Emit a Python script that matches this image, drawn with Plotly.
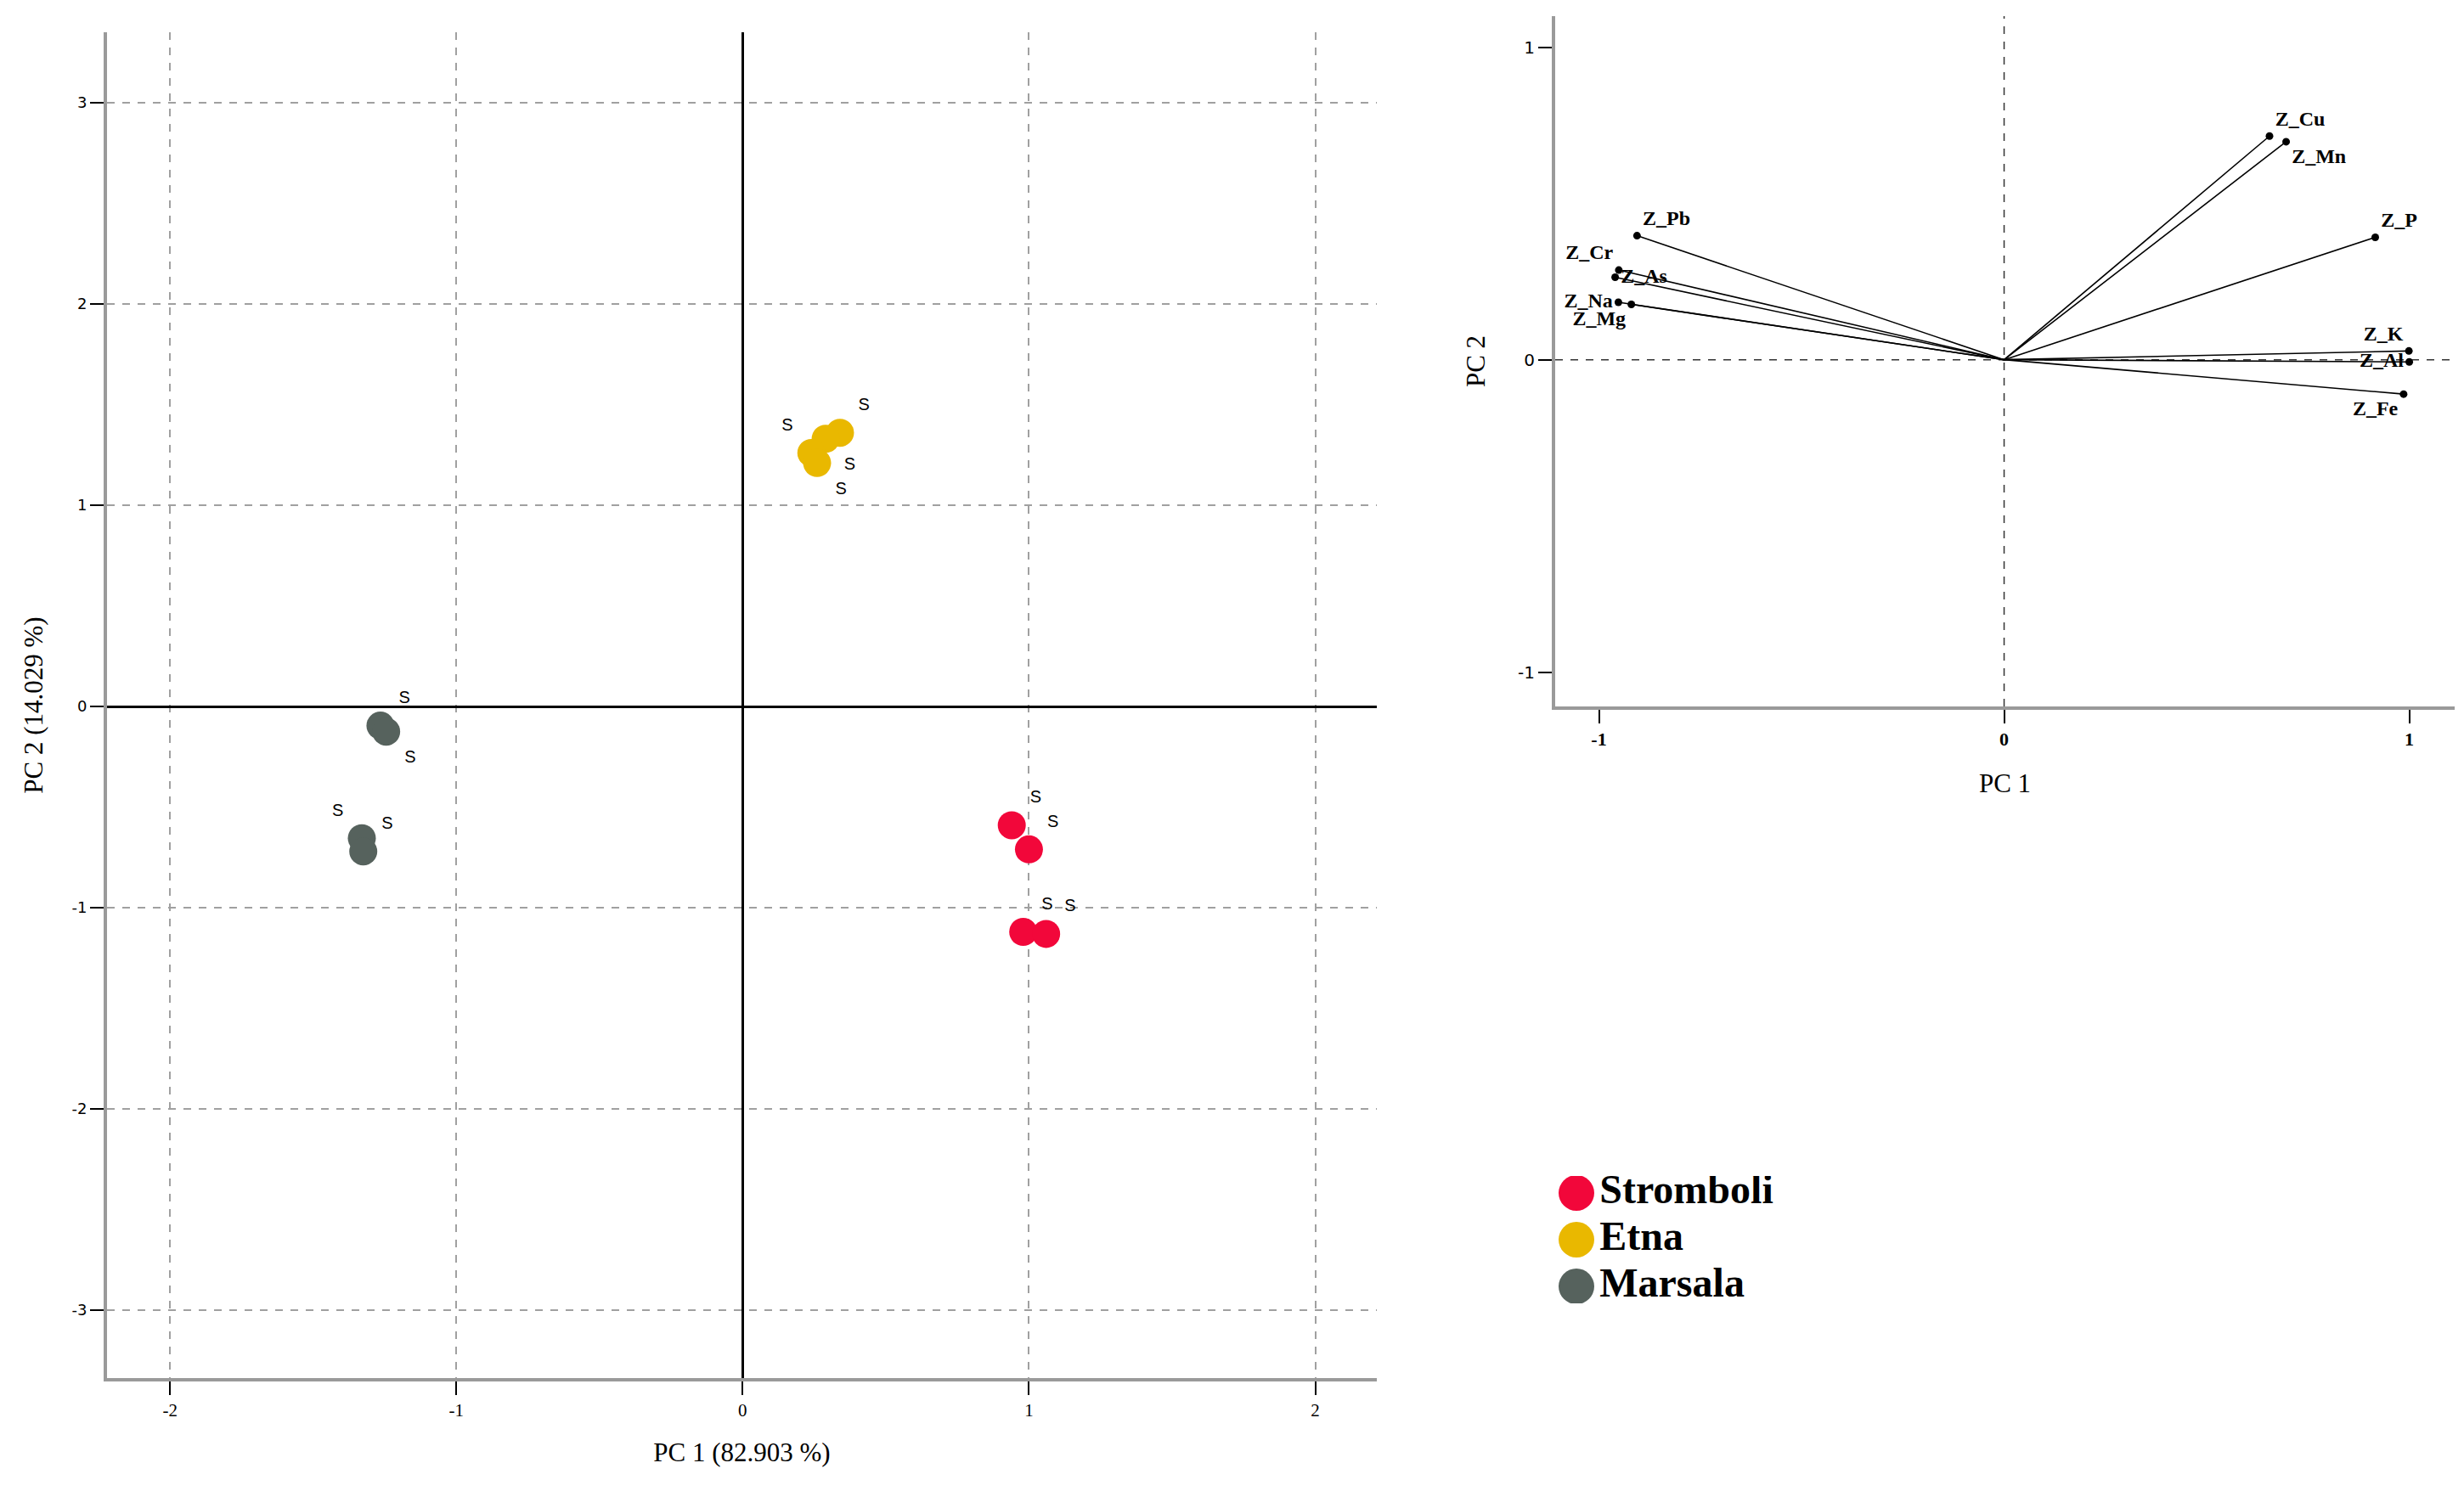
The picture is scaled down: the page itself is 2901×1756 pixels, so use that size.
import plotly.graph_objects as go

# groups and colours
groups = ["Stromboli", "Etna", "Marsala"]
group_colors = ["#F2073A", "#E9B800", "#56625D"]

# PCA scores
stromboli_pc1 = [0.94, 1.00, 0.98, 1.06]
stromboli_pc2 = [-0.59, -0.71, -1.12, -1.13]
etna_pc1 = [0.34, 0.29, 0.24, 0.26]
etna_pc2 = [1.36, 1.33, 1.26, 1.21]
marsala_pc1 = [-1.265, -1.245, -1.33, -1.325]
marsala_pc2 = [-0.095, -0.125, -0.655, -0.72]
point_label = "S"

# loadings
loading_names = ["Z_Cu", "Z_Mn", "Z_P", "Z_K", "Z_Al", "Z_Fe",
                 "Z_Pb", "Z_Cr", "Z_As", "Z_Na", "Z_Mg"]
loading_pc1 = [0.655, 0.696, 0.916, 0.999, 1.0, 0.986,
               -0.906, -0.951, -0.96, -0.952, -0.92]
loading_pc2 = [0.716, 0.698, 0.392, 0.028, -0.007, -0.110,
               0.397, 0.287, 0.264, 0.184, 0.177]

score_x_ticks = [-2, -1, 0, 1, 2]
score_y_ticks = [-3, -2, -1, 0, 1, 2, 3]
loading_ticks = [-1, 0, 1]

W, H = 2901, 1756

scores = [
    (stromboli_pc1, stromboli_pc2, ["top right"] * 4),
    (etna_pc1, etna_pc2, ["top right", "bottom right", "top left", "bottom right"]),
    (marsala_pc1, marsala_pc2, ["top right", "bottom right", "top left", "top right"]),
]
label_pos = ["top right", "bottom right", "top right", "top left", "middle left",
             "bottom left", "top right", "top left", "middle right",
             "middle left", "bottom left"]

fig = go.Figure()

for (px, py, tpos), name, col in zip(scores, groups, group_colors):
    fig.add_trace(go.Scatter(
        x=px, y=py, mode="markers+text", name=name,
        text=[point_label] * len(px), textposition=tpos,
        textfont=dict(family="Liberation Sans", size=20, color="black"),
        marker=dict(size=33, color=col),
        xaxis="x", yaxis="y", showlegend=False))

vec_x, vec_y = [], []
for lx, ly in zip(loading_pc1, loading_pc2):
    vec_x += [0, lx, None]
    vec_y += [0, ly, None]

fig.add_trace(go.Scatter(
    x=vec_x, y=vec_y, mode="lines",
    line=dict(color="black", width=1.6),
    xaxis="x2", yaxis="y2", showlegend=False))
fig.add_trace(go.Scatter(
    x=loading_pc1, y=loading_pc2, mode="markers+text",
    text=["<b>%s</b>" % n for n in loading_names], textposition=label_pos,
    textfont=dict(family="Liberation Serif", size=24, color="black"),
    marker=dict(size=9, color="black"),
    xaxis="x2", yaxis="y2", showlegend=False))

# hand made legend
fig.add_trace(go.Scatter(
    x=[0] * len(groups), y=list(range(len(groups))),
    mode="markers+text", text=["<b>%s</b>" % g for g in groups],
    textposition="middle right",
    textfont=dict(family="Liberation Serif", size=48, color="black"),
    marker=dict(size=42, color=group_colors),
    xaxis="x3", yaxis="y3", showlegend=False))

axis_common = dict(
    showline=True, linecolor="#9a9a9a", linewidth=4,
    ticks="outside", ticklen=16, tickwidth=2, tickcolor="black",
    mirror=False,
)
title_font = dict(family="Liberation Serif", size=31, color="black")

fig.update_layout(
    width=W, height=H,
    margin=dict(l=0, r=0, t=0, b=0),
    paper_bgcolor="white", plot_bgcolor="white",
    template="none",
    xaxis=dict(
        domain=[118 / W, 1613 / W], range=[-2.22, 2.215], anchor="y",
        tickvals=score_x_ticks, ticktext=[str(t) for t in score_x_ticks],
        showgrid=True, gridcolor="#a0a0a0", gridwidth=1.5, griddash="dash",
        zeroline=True, zerolinecolor="black", zerolinewidth=3,
        tickfont=dict(family="Liberation Serif", size=21, color="black"),
        title=dict(text="PC 1 (82.903 %)", standoff=28, font=title_font),
        **axis_common),
    yaxis=dict(
        domain=[1 - 1615 / H, 1 - 30 / H], range=[-3.337, 3.35], anchor="x",
        tickvals=score_y_ticks, ticktext=[str(t) for t in score_y_ticks],
        showgrid=True, gridcolor="#a0a0a0", gridwidth=1.5, griddash="dash",
        zeroline=True, zerolinecolor="black", zerolinewidth=3,
        tickfont=dict(family="DejaVu Sans", size=18, color="black"),
        title=dict(text="PC 2 (14.029 %)", standoff=26, font=title_font),
        **axis_common),
    xaxis2=dict(
        domain=[1823 / W, 2882 / W], range=[-1.108, 1.112], anchor="y2",
        tickvals=loading_ticks, ticktext=["<b>%d</b>" % t for t in loading_ticks],
        showgrid=False, zeroline=False,
        tickfont=dict(family="Liberation Serif", size=22, color="black"),
        title=dict(text="PC 1", standoff=30, font=title_font),
        **axis_common),
    yaxis2=dict(
        domain=[1 - 824 / H, 1 - 11 / H], range=[-1.11, 1.10], anchor="x2",
        tickvals=loading_ticks, ticktext=[str(t) for t in loading_ticks],
        showgrid=False, zeroline=False,
        tickfont=dict(family="DejaVu Sans", size=20, color="black"),
        title=dict(text="PC 2", standoff=30, font=title_font),
        **axis_common),
    xaxis3=dict(domain=[1823 / W, 2243 / W], range=[-25, 395],
                visible=False, anchor="y3"),
    yaxis3=dict(domain=[1 - 1527 / H, 1 - 1377 / H], range=[2.364, -0.364],
                visible=False, anchor="x3"),
    showlegend=False,
)

# dashed reference lines through the origin of the loading plot
fig.add_shape(type="line", xref="x2", yref="y2 domain", x0=0, x1=0, y0=0, y1=1,
              line=dict(color="#333333", width=1.5, dash="dash"), layer="below")
fig.add_shape(type="line", xref="x2 domain", yref="y2", x0=0, x1=1, y0=0, y1=0,
              line=dict(color="#333333", width=1.5, dash="dash"), layer="below")

fig.write_html("out.html")
